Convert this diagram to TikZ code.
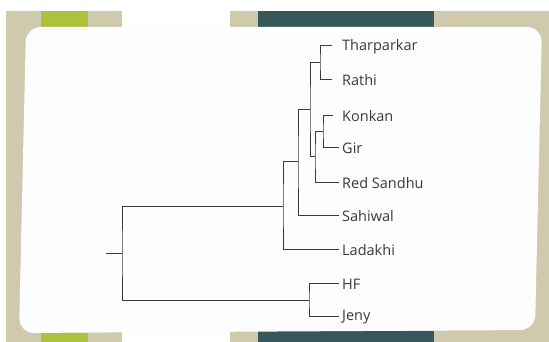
\documentclass[tikz,border=0pt]{standalone}
\usepackage{fontspec}
\setmainfont{Open Sans}
\definecolor{beige}{HTML}{CFC9AE}
\definecolor{lime}{HTML}{AEC13F}
\definecolor{teal2}{HTML}{36585D}
\definecolor{card}{HTML}{FDFDFD}
\definecolor{ink}{HTML}{3A3A3A}
\begin{document}
\begin{tikzpicture}[x=1pt,y=-1pt,
  branch/.style={draw=ink,line width=0.9pt},
  leaf/.style={anchor=west,inner sep=0pt,yshift=-1.5pt,text=ink,font=\fontsize{14.5}{14.5}\selectfont}]
\useasboundingbox (0,0) rectangle (549,342);
% frame
\fill[beige] (6,11) rectangle (122,342);
\fill[beige] (230,11) rectangle (549,342);
\fill[lime] (41,11) rectangle (88,27);
\fill[lime] (41,331) rectangle (88,342);
\fill[teal2] (258,11) rectangle (434,27);
\fill[teal2] (258,331) rectangle (434,342);
\fill[card, rounded corners=15pt] (26,27) -- (542,27) -- (535,330) -- (19,333) -- cycle;
% leaves
\node[leaf] (tha) at (342,45) {Tharparkar};
\node[leaf] (rat) at (342,79) {Rathi};
\node[leaf] (kon) at (342,115) {Konkan};
\node[leaf] (gir) at (342,147) {Gir};
\node[leaf] (red) at (342,182) {Red Sandhu};
\node[leaf] (sah) at (342,215) {Sahiwal};
\node[leaf] (lad) at (342,249) {Ladakhi};
\node[leaf] (hf) at (342,283) {HF};
\node[leaf] (jen) at (342,316) {Jeny};
\coordinate (thaE) at (332,45);
\coordinate (ratE) at (332,79);
\coordinate (konE) at (333,115);
\coordinate (girE) at (339,147);
\coordinate (redE) at (339,182);
\coordinate (sahE) at (339,215);
\coordinate (ladE) at (339,249);
\coordinate (hfE) at (339,283);
\coordinate (jenE) at (339,316);
% internal nodes
\coordinate (n1) at (320,62);
\coordinate (n2) at (323,131);
\coordinate (n3) at (315,156);
\coordinate (n4) at (310,109);
\coordinate (n5) at (298,161);
\coordinate (n6) at (283,206);
\coordinate (n7) at (309,300);
\coordinate (root) at (122,253);
\coordinate (stub) at (106,253);
% branches
\draw[branch] (thaE) -| (n1) |- (ratE);
\draw[branch] (konE) -| (n2) |- (girE);
\draw[branch] (n2) -| (n3) |- (redE);
\draw[branch] (n1) -| (n4) |- (n3);
\draw[branch] (n4) -| (n5) |- (sahE);
\draw[branch] (n5) -| (n6) |- (ladE);
\draw[branch] (hfE) -| (n7) |- (jenE);
\draw[branch] (n6) -| (root) |- (n7);
\draw[branch] (stub) -- (root);
\end{tikzpicture}
\end{document}
